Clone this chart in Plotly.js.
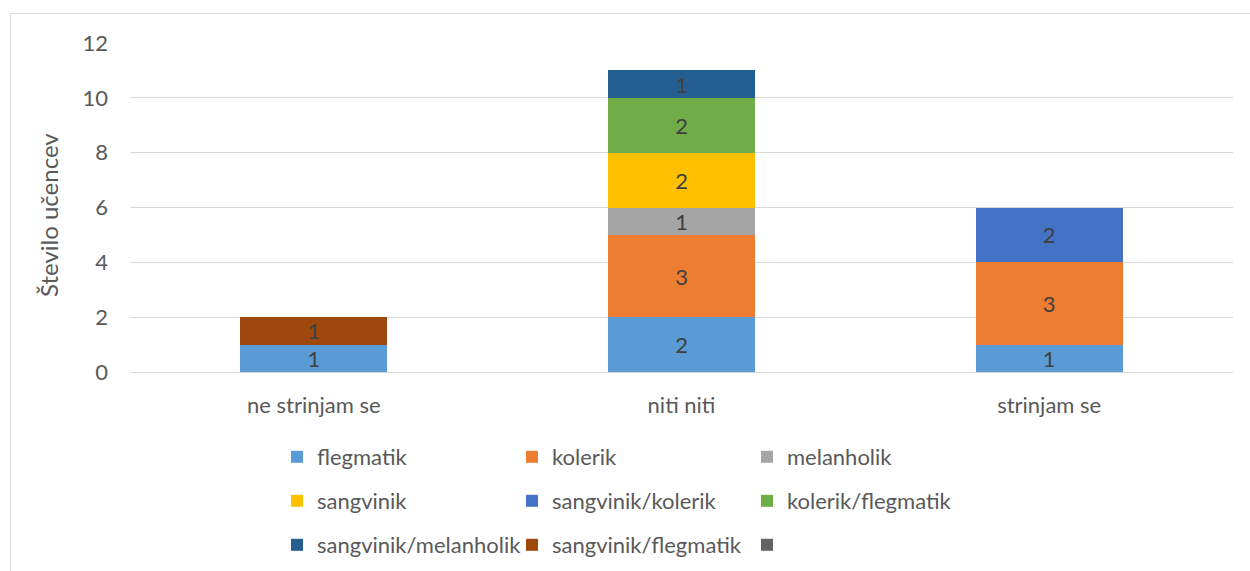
<!DOCTYPE html>
<html>
<head>
<meta charset="utf-8">
<script src="https://cdn.plot.ly/plotly-3.0.1.min.js"></script>
<style>html,body{margin:0;padding:0;background:#fff;}#chart{width:1250px;height:571px;}</style>
</head>
<body>
<div id="chart"></div>
<script>
const categories = ["ne strinjam se", "niti niti", "strinjam se"];
const seriesNames = ["flegmatik", "kolerik", "melanholik", "sangvinik", "sangvinik/kolerik", "kolerik/flegmatik", "sangvinik/melanholik", "sangvinik/flegmatik", " "];
const flegmatik = [1, 2, 1];
const kolerik = [null, 3, 3];
const melanholik = [null, 1, null];
const sangvinik = [null, 2, null];
const sangvinikKolerik = [null, null, 2];
const kolerikFlegmatik = [null, 2, null];
const sangvinikMelanholik = [null, 1, null];
const sangvinikFlegmatik = [1, null, null];
const empty = [null, null, null];
const yTicks = [0, 2, 4, 6, 8, 10, 12];
const yTitle = "Število učencev";

const seriesValues = [flegmatik, kolerik, melanholik, sangvinik, sangvinikKolerik, kolerikFlegmatik, sangvinikMelanholik, sangvinikFlegmatik, empty];
const colors = ["#5B9BD5", "#ED7D31", "#A5A5A5", "#FFC000", "#4472C4", "#70AD47", "#255E91", "#9E480E", "#636363"];
const legendIds = ["legend", "legend", "legend", "legend2", "legend2", "legend2", "legend3", "legend3", "legend3"];

const FONT = "Lato, 'Open Sans', sans-serif";
const TXT = "#595959";
const FS = 22;

const traces = seriesNames.map((name, i) => ({
  type: "bar",
  name: name,
  x: categories,
  y: seriesValues[i],
  marker: {color: colors[i], line: {width: 0}},
  text: seriesValues[i].map(v => v == null ? "" : String(v)),
  textposition: "inside",
  insidetextanchor: "middle",
  textangle: 0,
  constraintext: "none",
  textfont: {family: FONT, size: FS, color: "#404040"},
  hoverinfo: "skip",
  legend: legendIds[i],
  cliponaxis: false
}));

const L = 130, R = 17, T = 43, B = 199;
const W = 1250 - L - R, H = 571 - T - B;
const px = v => (v - L) / W;
const py = v => (571 - B - v) / H;

const legendBase = {
  orientation: "h",
  xanchor: "left",
  yanchor: "middle",
  entrywidth: 190,
  entrywidthmode: "pixels",
  itemwidth: 30,
  traceorder: "normal",
  font: {family: FONT, size: FS, color: TXT},
  bgcolor: "rgba(0,0,0,0)",
  itemclick: false,
  itemdoubleclick: false
};

const layout = {
  width: 1250,
  height: 571,
  margin: {l: L, r: R, t: T, b: B, pad: 0, autoexpand: false},
  paper_bgcolor: "#ffffff",
  plot_bgcolor: "#ffffff",
  barmode: "stack",
  bargap: 0.6,
  font: {family: FONT, color: TXT},
  showlegend: true,
  legend: Object.assign({}, legendBase, {x: px(277), y: py(457)}),
  legend2: Object.assign({}, legendBase, {x: px(277), y: py(501)}),
  legend3: Object.assign({}, legendBase, {x: px(277), y: py(545)}),
  xaxis: {
    type: "category",
    showgrid: false,
    showline: false,
    ticks: "",
    tickfont: {family: FONT, size: FS, color: TXT},
    ticklabelstandoff: 18,
    fixedrange: true
  },
  yaxis: {
    range: [0, 12],
    tickvals: yTicks,
    ticktext: yTicks.map(String),
    showgrid: true,
    gridcolor: "#d9d9d9",
    gridwidth: 1,
    zeroline: true,
    zerolinecolor: "#d9d9d9",
    zerolinewidth: 1,
    showline: false,
    ticks: "",
    tickfont: {family: FONT, size: FS, color: TXT},
    ticklabelstandoff: 21,
    fixedrange: true
  },
  annotations: [{
    text: yTitle, xref: "paper", yref: "paper",
    x: px(48), y: py(215), xanchor: "center", yanchor: "middle",
    textangle: -90, showarrow: false,
    font: {family: FONT, size: 24, color: TXT}
  }],
  shapes: [{
    type: "rect", xref: "paper", yref: "paper",
    x0: px(10.5), x1: px(1260), y0: py(13.5), y1: py(590),
    line: {color: "#d9d9d9", width: 1}, fillcolor: "rgba(0,0,0,0)", layer: "below"
  }]
};

Plotly.newPlot("chart", traces, layout, {displayModeBar: false, staticPlot: true});
</script>
</body>
</html>
